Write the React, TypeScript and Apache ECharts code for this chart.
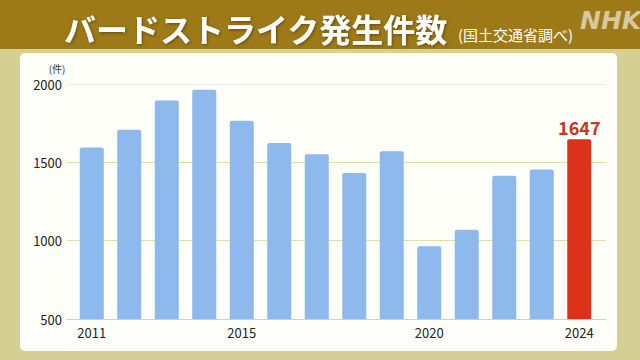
import React, { useEffect, useRef } from "react";
import * as echarts from "echarts";

const years = ["2011","2012","2013","2014","2015","2016","2017","2018","2019","2020","2021","2022","2023","2024"];
const counts = [1594, 1708, 1895, 1963, 1766, 1623, 1551, 1432, 1570, 965, 1069, 1415, 1455, 1647];
const shownYearLabels = ["2011", "2015", "2020", "2024"];
const highlightYear = "2024";
const yMin = 500;
const yMax = 2000;
const yStep = 500;
const titleText = "バードストライク発生件数";
const subtitleText = "(国土交通省調べ)";
const unitText = "(件)";

const FONT = '"Noto Sans CJK JP", "Noto Sans", sans-serif';

export default function App() {
  const ref = useRef<HTMLDivElement>(null);
  useEffect(() => {
    const chart = echarts.init(ref.current!, undefined, { renderer: "svg" });
    const option: any = {
      animation: false,
      backgroundColor: "#d6cf93",
      textStyle: { fontFamily: FONT },
      graphic: [
        { type: "rect", z: -10, shape: { x: 0, y: 0, width: 640, height: 49 }, style: { fill: "#9d7a17" } },
        { type: "rect", z: -10, shape: { x: 20, y: 53, width: 597, height: 298, r: 5 }, style: { fill: "#fffffa" } },
        {
          type: "text", z: 10, x: 64, y: 28,
          style: {
            text: titleText, fill: "#ffffff", font: `bold 32px ${FONT}`,
            textVerticalAlign: "middle",
            textShadowColor: "rgba(60,40,0,0.6)", textShadowBlur: 3, textShadowOffsetX: 1, textShadowOffsetY: 1,
          },
        },
        {
          type: "text", z: 10, x: 458, y: 34,
          style: { text: subtitleText, fill: "#ffffff", font: `15px ${FONT}`, textVerticalAlign: "middle" },
        },
        {
          type: "text", z: 10, x: 580, y: 20,
          style: { text: "NHK", fill: "rgba(225,215,185,0.85)", font: `italic bold 25px "DejaVu Sans", sans-serif`, textVerticalAlign: "middle" },
        },
        {
          type: "text", z: 10, x: 57, y: 68,
          style: { text: unitText, fill: "#333", font: `10px ${FONT}`, textAlign: "center", textVerticalAlign: "middle" },
        },
      ],
      grid: [
        { left: 67, right: 34, top: 84, bottom: 41 },
        { left: 73, right: 42, top: 84, bottom: 41 },
      ],
      xAxis: [
        {
          type: "value", gridIndex: 0, min: 0, max: 1,
          axisLabel: { show: false }, axisTick: { show: false }, splitLine: { show: false },
          axisLine: { show: true, onZero: false, lineStyle: { color: "#cfcfcf", width: 1 } },
        },
        {
          type: "category", gridIndex: 1, data: years,
          axisLine: { show: false }, axisTick: { show: false },
          axisLabel: {
            interval: (i: number, v: string) => shownYearLabels.includes(v),
            color: "#222", fontSize: 13, margin: 7, fontFamily: FONT,
          },
        },
      ],
      yAxis: [
        {
          type: "value", gridIndex: 0, min: yMin, max: yMax, interval: yStep,
          axisLine: { show: false }, axisTick: { show: false },
          axisLabel: { color: "#222", fontSize: 13, margin: 5, fontFamily: FONT, formatter: (v: number) => String(v) },
          splitLine: { lineStyle: { color: ["transparent", "#e4dea6", "#e4dea6", "#ebebe3"], width: 1 } },
        },
        {
          type: "value", gridIndex: 1, min: yMin, max: yMax, interval: yStep,
          show: false, splitLine: { show: false },
        },
      ],
      series: [
        {
          type: "bar", xAxisIndex: 1, yAxisIndex: 1,
          barWidth: "64%",
          data: counts.map((v, i) => {
            const hi = years[i] === highlightYear;
            return {
              value: v,
              itemStyle: { color: hi ? "#db3219" : "#8db9ec", borderRadius: [2, 2, 0, 0] },
              label: hi
                ? { show: true, position: "top", distance: 3, color: "#c23a22", fontSize: 18, fontWeight: "bold", fontFamily: FONT }
                : { show: false },
            };
          }),
        },
      ],
    };
    chart.setOption(option);
    return () => chart.dispose();
  }, []);
  return <div ref={ref} style={{ position: "fixed", left: 0, top: 0, width: 640, height: 360 }} />;
}
